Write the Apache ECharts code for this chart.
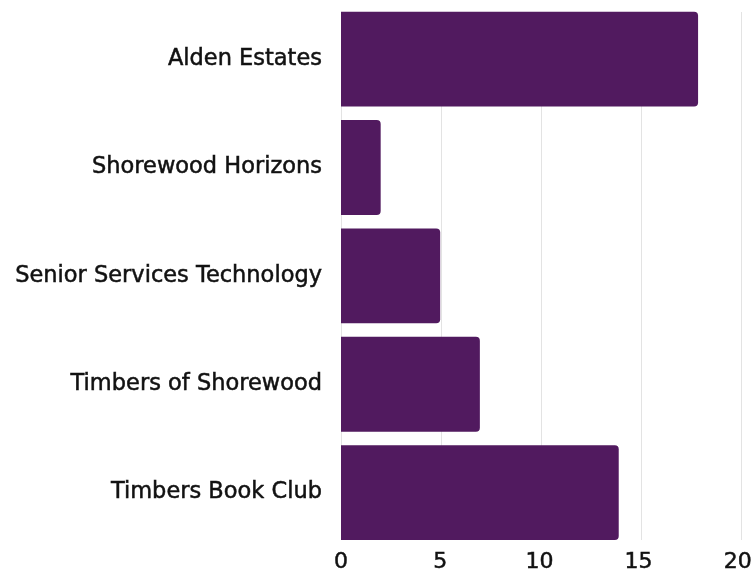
<!DOCTYPE html>
<html>
<head>
<meta charset="utf-8">
<style>
  html, body { margin: 0; padding: 0; background: #ffffff; }
  #chart { width: 755px; height: 574px; }
</style>
<script src="https://cdn.jsdelivr.net/npm/echarts@6/dist/echarts.min.js"></script>
</head>
<body>
<div id="chart"></div>
<script>
// Category names, listed top to bottom
const categories = [
  'Alden Estates',
  'Shorewood Horizons',
  'Senior Services Technology',
  'Timbers of Shorewood',
  'Timbers Book Club'
];
// Count for each category
const values = [18, 2, 5, 7, 14];
// Value axis ticks
const xTicks = [0, 5, 10, 15, 20];

const FONT = '"DejaVu Sans", "Open Sans", sans-serif';
const BAR_COLOR = '#511a5f';
const TEXT_COLOR = '#111111';

// slightly heavier strokes for the axis text
const textWeight = { textBorderColor: TEXT_COLOR, textBorderWidth: 0.5 };

const chart = echarts.init(document.getElementById('chart'), null, { renderer: 'canvas' });

chart.setOption({
  animation: false,
  backgroundColor: '#ffffff',
  grid: [
    // bars and labels
    { left: 341, right: 14, top: 5, bottom: 27, containLabel: false },
    // vertical guide lines (slightly shorter than the bar area)
    { left: 341, right: 14, top: 12, bottom: 34, containLabel: false }
  ],
  xAxis: [
    {
      gridIndex: 0,
      type: 'value',
      min: xTicks[0],
      max: xTicks[xTicks.length - 1],
      interval: 5,
      axisLine: { show: false },
      axisTick: { show: false },
      splitLine: { show: false },
      axisLabel: Object.assign({
        color: TEXT_COLOR,
        fontFamily: FONT,
        fontSize: 22,
        margin: 5
      }, textWeight)
    },
    {
      gridIndex: 1,
      type: 'value',
      min: xTicks[0],
      max: xTicks[xTicks.length - 1],
      interval: 5,
      axisLine: { show: false },
      axisTick: { show: false },
      axisLabel: { show: false },
      splitLine: { show: true, lineStyle: { color: '#e3e3e3', width: 1 } }
    }
  ],
  yAxis: [
    {
      gridIndex: 0,
      type: 'category',
      data: categories,
      inverse: true,
      axisLine: { show: false },
      axisTick: { show: false },
      splitLine: { show: false },
      axisLabel: Object.assign({
        color: TEXT_COLOR,
        fontFamily: FONT,
        fontSize: 22.5,
        margin: 19
      }, textWeight)
    },
    {
      gridIndex: 1,
      type: 'category',
      data: categories,
      inverse: true,
      show: false
    }
  ],
  series: [
    {
      type: 'bar',
      xAxisIndex: 0,
      yAxisIndex: 0,
      data: values,
      barCategoryGap: '12.5%',
      itemStyle: {
        color: BAR_COLOR,
        borderRadius: [0, 4, 4, 0]
      },
      z: 3
    }
  ]
});
</script>
</body>
</html>
